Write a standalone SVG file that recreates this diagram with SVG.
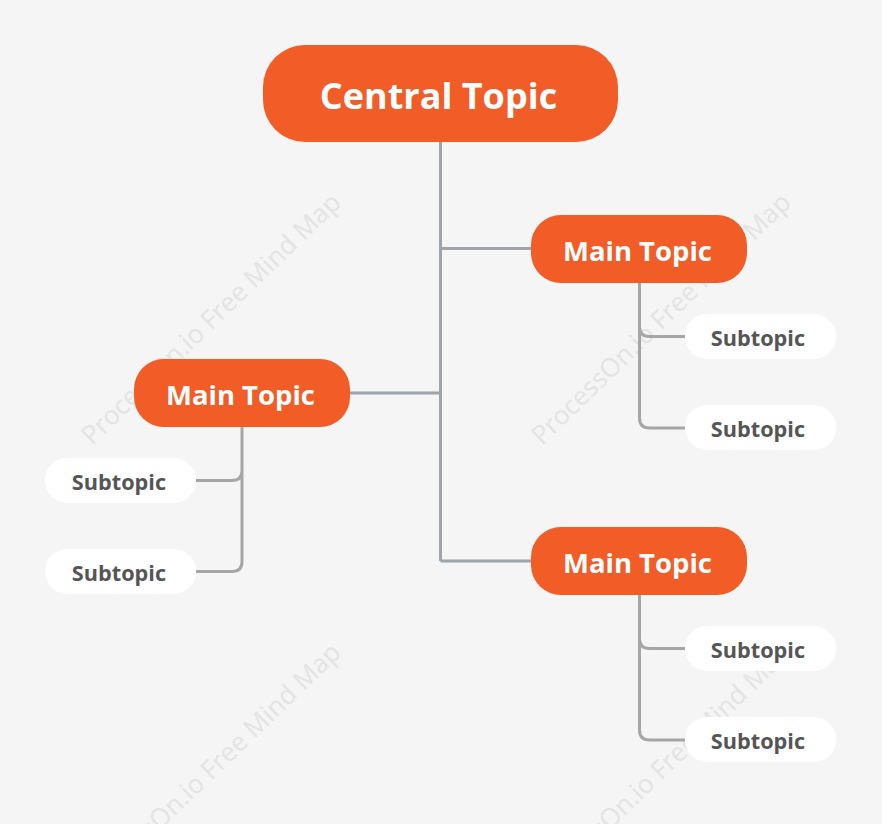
<svg xmlns="http://www.w3.org/2000/svg" width="882" height="824" viewBox="0 0 882 824">
<style>
.bg{fill:#f5f5f5}
.wm{font-family:"Open Sans","Noto Sans",sans-serif;font-size:26px;fill:#e3e3e3}
.central rect{fill:#f25c27}
.main rect{fill:#f25c27}
.sub rect{fill:#ffffff}
.ct{font-family:"Open Sans","Noto Sans",sans-serif;font-weight:700;font-size:36px;fill:#ffffff;text-anchor:middle;dominant-baseline:central}
.mt{font-family:"Open Sans","Noto Sans",sans-serif;font-weight:700;font-size:27.5px;fill:#ffffff;text-anchor:middle;dominant-baseline:central}
.st{font-family:"Open Sans","Noto Sans",sans-serif;font-weight:700;font-size:21.7px;fill:#555555;text-anchor:middle;dominant-baseline:central}
.c1{fill:none;stroke:#9ea4aa;stroke-width:3}
.c2{fill:none;stroke:#a6a6a6;stroke-width:3}
</style>
<rect class="bg" x="0" y="0" width="882" height="824"/>
<g id="watermarks">
<text class="wm" transform="translate(92,446) rotate(-44)">ProcessOn.io Free Mind Map</text>
<text class="wm" transform="translate(542,446) rotate(-44)">ProcessOn.io Free Mind Map</text>
<text class="wm" transform="translate(92,896) rotate(-44)">ProcessOn.io Free Mind Map</text>
<text class="wm" transform="translate(542,896) rotate(-44)">ProcessOn.io Free Mind Map</text>
</g>
<g id="connectors">
<path class="c1" d="M440.5,142 V561 M440.5,248.5 H531 M440.5,393 H350 M440.5,561 H531"/>
<path class="c2" d="M639.5,283 V326.5 Q639.5,336.5 649.5,336.5 H685 M639.5,326 V418 Q639.5,428 649.5,428 H685"/>
<path class="c2" d="M639.5,595 V638.5 Q639.5,648.5 649.5,648.5 H685 M639.5,638 V730 Q639.5,740 649.5,740 H685"/>
<path class="c2" d="M242,427 V470.5 Q242,480.5 232,480.5 H196 M242,470 V561.5 Q242,571.5 232,571.5 H196"/>
</g>
<g id="central" class="central">
<rect x="263" y="45" width="355" height="97" rx="42"/>
<text class="ct" x="438.5" y="95">Central Topic</text>
</g>
<g id="main-right-top" class="main">
<rect x="531" y="215" width="216" height="68" rx="30"/>
<text class="mt" x="637.5" y="250">Main Topic</text>
</g>
<g id="main-left" class="main">
<rect x="134" y="359" width="216" height="68" rx="30"/>
<text class="mt" x="240.5" y="394">Main Topic</text>
</g>
<g id="main-right-bottom" class="main">
<rect x="531" y="527" width="216" height="68" rx="30"/>
<text class="mt" x="637.5" y="562">Main Topic</text>
</g>
<g id="sub-rt-1" class="sub">
<rect x="685" y="314" width="151" height="45" rx="22"/>
<text class="st" x="758" y="337">Subtopic</text>
</g>
<g id="sub-rt-2" class="sub">
<rect x="685" y="405" width="151" height="45" rx="22"/>
<text class="st" x="758" y="428">Subtopic</text>
</g>
<g id="sub-rb-1" class="sub">
<rect x="685" y="626" width="151" height="45" rx="22"/>
<text class="st" x="758" y="649">Subtopic</text>
</g>
<g id="sub-rb-2" class="sub">
<rect x="685" y="717" width="151" height="45" rx="22"/>
<text class="st" x="758" y="740">Subtopic</text>
</g>
<g id="sub-l-1" class="sub">
<rect x="45" y="458" width="151" height="45" rx="22"/>
<text class="st" x="119" y="481">Subtopic</text>
</g>
<g id="sub-l-2" class="sub">
<rect x="45" y="549" width="151" height="45" rx="22"/>
<text class="st" x="119" y="572">Subtopic</text>
</g>
</svg>
